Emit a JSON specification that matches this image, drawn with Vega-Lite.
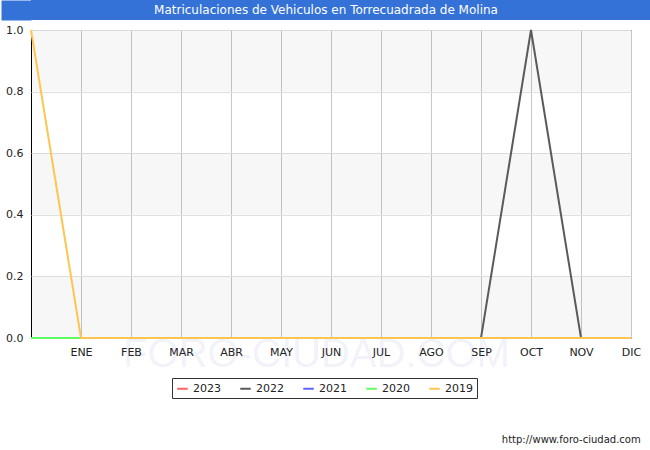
{
  "$schema": "https://vega.github.io/schema/vega-lite/v6.json",
  "background": "white",
  "padding": 0,
  "spacing": 3,
  "config": {
    "font": "DejaVu Sans",
    "view": {"stroke": "black", "strokeWidth": 1},
    "axis": {"labelFont": "DejaVu Sans", "labelFontSize": 11, "labelColor": "#222"}
  },
  "datasets": {
    "bandas": [
      {"desde": 0.0, "hasta": 0.2},
      {"desde": 0.4, "hasta": 0.6},
      {"desde": 0.8, "hasta": 1.0}
    ],
    "matriculas": [
      {"anio": "2023", "mes": 0, "valor": 0}, {"anio": "2023", "mes": 1, "valor": 0}, {"anio": "2023", "mes": 2, "valor": 0},
      {"anio": "2023", "mes": 3, "valor": 0}, {"anio": "2023", "mes": 4, "valor": 0}, {"anio": "2023", "mes": 5, "valor": 0},
      {"anio": "2023", "mes": 6, "valor": 0}, {"anio": "2023", "mes": 7, "valor": 0}, {"anio": "2023", "mes": 8, "valor": 0},
      {"anio": "2023", "mes": 9, "valor": 0}, {"anio": "2023", "mes": 10, "valor": 0}, {"anio": "2023", "mes": 11, "valor": 0},
      {"anio": "2023", "mes": 12, "valor": 0},
      {"anio": "2022", "mes": 0, "valor": 0}, {"anio": "2022", "mes": 1, "valor": 0}, {"anio": "2022", "mes": 2, "valor": 0},
      {"anio": "2022", "mes": 3, "valor": 0}, {"anio": "2022", "mes": 4, "valor": 0}, {"anio": "2022", "mes": 5, "valor": 0},
      {"anio": "2022", "mes": 6, "valor": 0}, {"anio": "2022", "mes": 7, "valor": 0}, {"anio": "2022", "mes": 8, "valor": 0},
      {"anio": "2022", "mes": 9, "valor": 0}, {"anio": "2022", "mes": 10, "valor": 1}, {"anio": "2022", "mes": 11, "valor": 0},
      {"anio": "2022", "mes": 12, "valor": 0},
      {"anio": "2021", "mes": 0, "valor": 0}, {"anio": "2021", "mes": 1, "valor": 0}, {"anio": "2021", "mes": 2, "valor": 0},
      {"anio": "2021", "mes": 3, "valor": 0}, {"anio": "2021", "mes": 4, "valor": 0}, {"anio": "2021", "mes": 5, "valor": 0},
      {"anio": "2021", "mes": 6, "valor": 0}, {"anio": "2021", "mes": 7, "valor": 0}, {"anio": "2021", "mes": 8, "valor": 0},
      {"anio": "2021", "mes": 9, "valor": 0}, {"anio": "2021", "mes": 10, "valor": 0}, {"anio": "2021", "mes": 11, "valor": 0},
      {"anio": "2021", "mes": 12, "valor": 0},
      {"anio": "2020", "mes": 0, "valor": 0}, {"anio": "2020", "mes": 1, "valor": 0}, {"anio": "2020", "mes": 2, "valor": 0},
      {"anio": "2020", "mes": 3, "valor": 0}, {"anio": "2020", "mes": 4, "valor": 0}, {"anio": "2020", "mes": 5, "valor": 0},
      {"anio": "2020", "mes": 6, "valor": 0}, {"anio": "2020", "mes": 7, "valor": 0}, {"anio": "2020", "mes": 8, "valor": 0},
      {"anio": "2020", "mes": 9, "valor": 0}, {"anio": "2020", "mes": 10, "valor": 0}, {"anio": "2020", "mes": 11, "valor": 0},
      {"anio": "2020", "mes": 12, "valor": 0},
      {"anio": "2019", "mes": 0, "valor": 1}, {"anio": "2019", "mes": 1, "valor": 0}, {"anio": "2019", "mes": 2, "valor": 0},
      {"anio": "2019", "mes": 3, "valor": 0}, {"anio": "2019", "mes": 4, "valor": 0}, {"anio": "2019", "mes": 5, "valor": 0},
      {"anio": "2019", "mes": 6, "valor": 0}, {"anio": "2019", "mes": 7, "valor": 0}, {"anio": "2019", "mes": 8, "valor": 0},
      {"anio": "2019", "mes": 9, "valor": 0}, {"anio": "2019", "mes": 10, "valor": 0}, {"anio": "2019", "mes": 11, "valor": 0},
      {"anio": "2019", "mes": 12, "valor": 0}
    ]
  },
  "vconcat": [
    {
      "width": 620,
      "height": 20,
      "view": {"fill": "#3572d8", "stroke": null},
      "data": {"values": [{"titulo": "Matriculaciones de Vehiculos en Torrecuadrada de Molina"}]},
      "mark": {"type": "text", "color": "white", "fontSize": 12, "font": "DejaVu Sans", "dx": -15},
      "encoding": {
        "text": {"field": "titulo", "type": "nominal"},
        "y": {
          "field": "titulo",
          "type": "nominal",
          "scale": {"type": "band", "paddingInner": 0, "paddingOuter": 0},
          "axis": {
            "labels": false,
            "ticks": false,
            "grid": false,
            "title": null,
            "domain": true,
            "domainColor": "#3572d8",
            "domainWidth": 30,
            "offset": 15,
            "minExtent": 15,
            "maxExtent": 15
          }
        }
      }
    },
    {
      "width": 600,
      "height": 308,
      "title": {
        "text": "http://www.foro-ciudad.com",
        "orient": "bottom",
        "anchor": "end",
        "fontSize": 10,
        "fontWeight": "normal",
        "color": "#222",
        "offset": 61
      },
      "layer": [
        {
          "data": {"name": "bandas"},
          "mark": {"type": "rect", "color": "#000000", "opacity": 0.03},
          "encoding": {
            "y": {"field": "desde", "type": "quantitative", "scale": {"domain": [0, 1]}},
            "y2": {"field": "hasta"}
          }
        },
        {
          "data": {"name": "matriculas"},
          "mark": {"type": "line", "strokeWidth": 2},
          "encoding": {
            "x": {
              "field": "mes",
              "type": "quantitative",
              "scale": {"domain": [0, 12], "nice": false, "zero": false},
              "axis": {
                "values": [1, 2, 3, 4, 5, 6, 7, 8, 9, 10, 11, 12],
                "labelExpr": "['', 'ENE', 'FEB', 'MAR', 'ABR', 'MAY', 'JUN', 'JUL', 'AGO', 'SEP', 'OCT', 'NOV', 'DIC'][datum.value]",
                "labelFlush": false,
                "labelOverlap": false,
                "grid": true,
                "gridColor": "#c8c8c8",
                "ticks": false,
                "domain": false,
                "labelPadding": 8,
                "title": "FORO-CIUDAD.COM",
                "titleFont": "Liberation Sans",
                "titleFontSize": 40,
                "titleFontWeight": "normal",
                "titleColor": "#3c3cb4",
                "titleOpacity": 0.08,
                "titleX": 285,
                "titleY": 16,
                "titleBaseline": "middle"
              }
            },
            "y": {
              "field": "valor",
              "type": "quantitative",
              "scale": {"domain": [0, 1]},
              "axis": {
                "values": [0, 0.2, 0.4, 0.6, 0.8, 1.0],
                "format": ".1f",
                "gridColor": "#e0e0e0",
                "ticks": false,
                "domain": false,
                "labelPadding": 8,
                "minExtent": 30,
                "maxExtent": 30,
                "title": null
              }
            },
            "stroke": {
              "field": "anio",
              "type": "nominal",
              "sort": ["2023", "2022", "2021", "2020", "2019"],
              "scale": {
                "domain": ["2023", "2022", "2021", "2020", "2019"],
                "range": ["#ff6060", "#5a5a5a", "#6060ff", "#60ff60", "#ffc550"]
              },
              "legend": {
                "orient": "none",
                "legendX": 141,
                "legendY": 378,
                "direction": "horizontal",
                "title": null,
                "fillColor": "white",
                "strokeColor": "#333",
                "padding": 4,
                "symbolType": "stroke",
                "symbolStrokeWidth": 2,
                "symbolSize": 110,
                "labelFontSize": 11,
                "labelColor": "#222",
                "columnPadding": 15
              }
            }
          }
        }
      ]
    }
  ]
}
